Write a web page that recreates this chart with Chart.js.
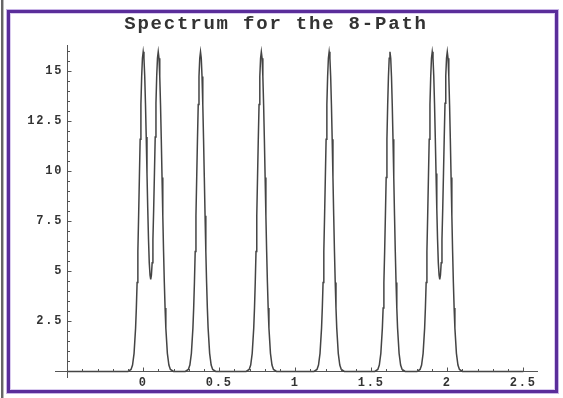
<!DOCTYPE html>
<html>
<head>
<meta charset="utf-8">
<script src="https://cdn.jsdelivr.net/npm/chart.js@4/dist/chart.umd.min.js"></script>
<style>
  body { margin: 0; background: #fff; }
  #wrap { position: relative; width: 563px; height: 398px; overflow: hidden; }
  #myChart { position: absolute; left: 0; top: 0; }
  .edge { position: absolute; top: 0; height: 398px; }
  #frame {
    position: absolute; left: 7px; top: 10px; width: 551px; height: 383px;
    box-sizing: border-box; border: 3px solid #5a2d9a;
    box-shadow: 0 0 0 1px #c8b4e6, inset 0 0 0 1px #d9cbef;
    pointer-events: none;
  }
</style>
</head>
<body>
<div id="wrap">
  <canvas id="myChart" width="563" height="398"></canvas>
  <div class="edge" style="left:1px;width:2px;background:#666;"></div>
  <div class="edge" style="left:3px;width:1px;background:#bbb;"></div>
  <div id="frame"></div>
</div>
<script>
var chartTitle = "Spectrum for the 8-Path";
var xTicks = [0, 0.5, 1, 1.5, 2, 2.5];
var yTicks = [2.5, 5, 7.5, 10, 12.5, 15];

// spectrum curve, one peak (or peak pair) per line
var spectrumX = [
  -0.5, -0.1, -0.08, -0.07, -0.06, -0.05, -0.045, -0.04, -0.035, -0.03, -0.025, -0.02, -0.015, -0.01, -0.005, 0, 0.005, 0.01, 0.015, 0.02, 0.025, 0.03, 0.035, 0.04, 0.045, 0.0495, 0.054, 0.059, 0.064, 0.069, 0.074, 0.079, 0.084, 0.089, 0.094, 0.099, 0.104, 0.109, 0.114, 0.119, 0.124, 0.129, 0.134, 0.139, 0.144, 0.149, 0.159, 0.169, 0.179, 0.2,
  0.277, 0.297, 0.307, 0.317, 0.327, 0.332, 0.337, 0.342, 0.347, 0.352, 0.357, 0.362, 0.367, 0.372, 0.377, 0.382, 0.387, 0.392, 0.397, 0.402, 0.407, 0.412, 0.417, 0.422, 0.427, 0.437, 0.447, 0.457, 0.477,
  0.677, 0.697, 0.707, 0.717, 0.727, 0.732, 0.737, 0.742, 0.747, 0.752, 0.757, 0.762, 0.767, 0.772, 0.777, 0.782, 0.787, 0.792, 0.797, 0.802, 0.807, 0.812, 0.817, 0.822, 0.827, 0.837, 0.847, 0.857, 0.877,
  1.123, 1.143, 1.153, 1.163, 1.173, 1.178, 1.183, 1.188, 1.193, 1.198, 1.203, 1.208, 1.213, 1.218, 1.223, 1.228, 1.233, 1.238, 1.243, 1.248, 1.253, 1.258, 1.263, 1.268, 1.273, 1.283, 1.293, 1.303, 1.323,
  1.523, 1.543, 1.553, 1.563, 1.573, 1.578, 1.583, 1.588, 1.593, 1.598, 1.603, 1.608, 1.613, 1.618, 1.623, 1.628, 1.633, 1.638, 1.643, 1.648, 1.653, 1.658, 1.663, 1.668, 1.673, 1.683, 1.693, 1.703, 1.723,
  1.801, 1.821, 1.831, 1.841, 1.851, 1.856, 1.861, 1.866, 1.871, 1.876, 1.881, 1.886, 1.891, 1.896, 1.901, 1.906, 1.911, 1.916, 1.921, 1.926, 1.931, 1.936, 1.941, 1.946, 1.9505, 1.955, 1.96, 1.965, 1.97, 1.975, 1.98, 1.985, 1.99, 1.995, 2.0, 2.005, 2.01, 2.015, 2.02, 2.025, 2.03, 2.035, 2.04, 2.045, 2.05, 2.06, 2.07, 2.08, 2.1, 2.5
];
var spectrumY = [
  0, 0, 0.1, 0.32, 0.9, 2.16, 3.16, 4.44, 5.99, 7.77, 9.68, 11.59, 13.33, 14.73, 15.64, 15.96, 15.65, 14.76, 13.39, 11.7, 9.88, 8.12, 6.59, 5.42, 4.8, 4.6, 4.8, 5.42, 6.59, 8.12, 9.88, 11.7, 13.39, 14.76, 15.65, 15.96, 15.64, 14.73, 13.33, 11.59, 9.68, 7.77, 5.99, 4.44, 3.16, 2.16, 0.9, 0.32, 0.1, 0,
  0, 0.1, 0.32, 0.9, 2.16, 3.16, 4.44, 5.99, 7.77, 9.68, 11.59, 13.33, 14.73, 15.64, 15.96, 15.64, 14.73, 13.33, 11.59, 9.68, 7.77, 5.99, 4.44, 3.16, 2.16, 0.9, 0.32, 0.1, 0,
  0, 0.1, 0.32, 0.9, 2.16, 3.16, 4.44, 5.99, 7.77, 9.68, 11.59, 13.33, 14.73, 15.64, 15.96, 15.64, 14.73, 13.33, 11.59, 9.68, 7.77, 5.99, 4.44, 3.16, 2.16, 0.9, 0.32, 0.1, 0,
  0, 0.1, 0.32, 0.9, 2.16, 3.16, 4.44, 5.99, 7.77, 9.68, 11.59, 13.33, 14.73, 15.64, 15.96, 15.64, 14.73, 13.33, 11.59, 9.68, 7.77, 5.99, 4.44, 3.16, 2.16, 0.9, 0.32, 0.1, 0,
  0, 0.1, 0.32, 0.9, 2.16, 3.16, 4.44, 5.99, 7.77, 9.68, 11.59, 13.33, 14.73, 15.64, 15.96, 15.64, 14.73, 13.33, 11.59, 9.68, 7.77, 5.99, 4.44, 3.16, 2.16, 0.9, 0.32, 0.1, 0,
  0, 0.1, 0.32, 0.9, 2.16, 3.16, 4.44, 5.99, 7.77, 9.68, 11.59, 13.33, 14.73, 15.64, 15.96, 15.65, 14.76, 13.39, 11.7, 9.88, 8.12, 6.59, 5.42, 4.8, 4.6, 4.8, 5.42, 6.59, 8.12, 9.88, 11.7, 13.39, 14.76, 15.65, 15.96, 15.64, 14.73, 13.33, 11.59, 9.68, 7.77, 5.99, 4.44, 3.16, 2.16, 0.9, 0.32, 0.1, 0, 0
];

var points = spectrumX.map(function (x, i) { return { x: x, y: spectrumY[i] }; });

var monoFont = '"Liberation Mono", "Courier New", monospace';
var axisColor = "#555";

// title + Mathematica-style axes with inward major/minor ticks
var mmaAxes = {
  id: "mmaAxes",
  beforeDraw: function (chart) {
    chart.ctx.letterSpacing = "1.8px";
  },
  afterDraw: function (chart) {
    var ctx = chart.ctx;
    var xs = chart.scales.x, ys = chart.scales.y;
    var x0 = Math.round(xs.getPixelForValue(-0.5)) + 0.5;
    var y0 = Math.round(ys.getPixelForValue(0)) + 0.5;
    ctx.save();
    ctx.fillStyle = "#333";
    ctx.font = "bold 19px " + monoFont;
    ctx.textAlign = "center";
    ctx.textBaseline = "alphabetic";
    ctx.fillText(chartTitle, 276, 29);
    ctx.letterSpacing = "0px";
    ctx.strokeStyle = axisColor;
    ctx.lineWidth = 1;
    ctx.beginPath();
    ctx.moveTo(x0, chart.chartArea.top);
    ctx.lineTo(x0, chart.chartArea.bottom);
    for (var i = -4; i <= 25; i++) {
      var px = Math.round(xs.getPixelForValue(i / 10)) + 0.5;
      var len = (i % 5 === 0) ? 4 : 2.5;
      ctx.moveTo(px, y0);
      ctx.lineTo(px, y0 - len);
    }
    for (var j = 1; j <= 32; j++) {
      var py = Math.round(ys.getPixelForValue(j / 2)) + 0.5;
      var l2 = (j % 5 === 0) ? 4 : 2.5;
      ctx.moveTo(x0, py);
      ctx.lineTo(x0 + l2, py);
    }
    ctx.stroke();
    ctx.restore();
    ctx.letterSpacing = "0px";
  }
};

var ctx = document.getElementById("myChart").getContext("2d");

var myChart = new Chart(ctx, {
  type: "scatter",
  data: {
    datasets: [
      {
        label: "spectrum",
        data: points,
        showLine: true,
        borderColor: "#444",
        borderWidth: 1.5,
        pointRadius: 0,
        tension: 0,
      },
    ],
  },
  options: {
    responsive: false,
    animation: false,
    layout: { padding: { left: 55, right: 26, top: 45, bottom: 20 } },
    plugins: {
      legend: { display: false },
      tooltip: { enabled: false },
      title: { display: false },
    },
    scales: {
      x: {
        type: "linear",
        position: { y: 0 },
        min: -0.58,
        max: 2.59,
        grid: { display: false, drawTicks: false },
        border: { display: true, color: axisColor, width: 1 },
        afterBuildTicks: function (s) {
          s.ticks = xTicks.map(function (v) { return { value: v }; });
        },
        ticks: {
          autoSkip: false,
          maxRotation: 0,
          padding: 4,
          color: "#333",
          font: { family: monoFont, size: 12, weight: "bold" },
          callback: function (v) { return String(v); },
        },
      },
      y: {
        type: "linear",
        // labels sit a little left of the axis line, which the plugin draws at x = -0.5
        position: { x: -0.525 },
        min: -0.33,
        max: 16.3,
        grid: { display: false, drawTicks: false },
        border: { display: false },
        afterBuildTicks: function (s) {
          s.ticks = yTicks.map(function (v) { return { value: v }; });
        },
        ticks: {
          autoSkip: false,
          color: "#333",
          font: { family: monoFont, size: 12, weight: "bold" },
          callback: function (v) { return String(v); },
        },
      },
    },
  },
  plugins: [mmaAxes],
});
</script>
</body>
</html>
